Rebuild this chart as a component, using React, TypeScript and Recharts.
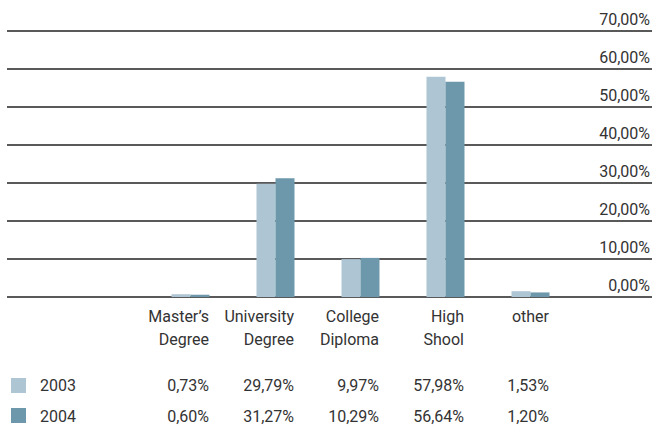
import React from "react";
import { BarChart, Bar, XAxis, YAxis, CartesianGrid, Customized } from "recharts";

const categoryLines: string[][] = [
  ["Master’s", "Degree"],
  ["University", "Degree"],
  ["College", "Diploma"],
  ["High", "Shool"],
  ["other"],
];
const categories = categoryLines.map((l) => l.join(" "));
const values2003 = [0.73, 29.79, 9.97, 57.98, 1.53];
const values2004 = [0.6, 31.27, 10.29, 56.64, 1.2];
const seriesNames = ["2003", "2004"];
const yTicks = [0, 10, 20, 30, 40, 50, 60, 70];

const COLORS = ["#aec6d3", "#6d97ab"];
const TEXT = "#333333";
const FONT = "Roboto, 'Liberation Sans', sans-serif";
const FS = 16;
const BAR = 19;

const data = categories.map((c, i) => ({
  cat: c,
  v2003: values2003[i],
  v2004: values2004[i],
}));

const fmt = (v: number) => v.toFixed(2).replace(".", ",") + "%";

const XTick = (props: any) => {
  const { x, y, index } = props;
  const lines = categoryLines[index] || [];
  const rx = x + BAR;
  return (
    <g fontFamily={FONT} fontSize={FS} fill={TEXT}>
      {lines.map((t, k) => (
        <text key={k} x={rx} y={y + 19 + k * 23} textAnchor="end" dominantBaseline="central">
          {t}
        </text>
      ))}
      <text x={rx} y={y + 88} textAnchor="end" dominantBaseline="central">
        {fmt(values2003[index])}
      </text>
      <text x={rx} y={y + 119} textAnchor="end" dominantBaseline="central">
        {fmt(values2004[index])}
      </text>
    </g>
  );
};

const YTick = (props: any) => {
  const { y, payload } = props;
  return (
    <text
      x={650}
      y={y - 12}
      textAnchor="end"
      dominantBaseline="central"
      fontFamily={FONT}
      fontSize={FS}
      fill={TEXT}
    >
      {fmt(payload.value)}
    </text>
  );
};

const LegendRows = () => (
  <g fontFamily={FONT} fontSize={FS} fill={TEXT}>
    {seriesNames.map((s, i) => (
      <g key={s}>
        <rect x={11} y={378 + i * 30} width={15} height={15} fill={COLORS[i]} />
        <text x={40} y={385 + i * 31} dominantBaseline="central">
          {s}
        </text>
      </g>
    ))}
  </g>
);

export default function App() {
  return (
    <div style={{ width: 653, height: 428 }}>
      <style>{"body{margin:0}"}</style>
      <BarChart
        width={653}
        height={428}
        data={data}
        margin={{ top: 31, right: 0, left: 7, bottom: 0 }}
        barSize={BAR}
        barGap={0}
      >
        <CartesianGrid vertical={false} stroke="#222222" strokeWidth={1.6} />
        <XAxis
          dataKey="cat"
          height={131}
          padding={{ left: 140.5, right: 79.5 }}
          axisLine={false}
          tickLine={false}
          tickSize={0}
          tickMargin={0}
          interval={0}
          tick={<XTick />}
        />
        <YAxis
          orientation="right"
          domain={[0, 70]}
          ticks={yTicks}
          interval={0}
          axisLine={false}
          tickLine={false}
          tick={<YTick />}
          width={1}
        />
        <Bar dataKey="v2003" name={seriesNames[0]} fill={COLORS[0]} isAnimationActive={false} />
        <Bar dataKey="v2004" name={seriesNames[1]} fill={COLORS[1]} isAnimationActive={false} />
        <Customized component={LegendRows} />
      </BarChart>
    </div>
  );
}
